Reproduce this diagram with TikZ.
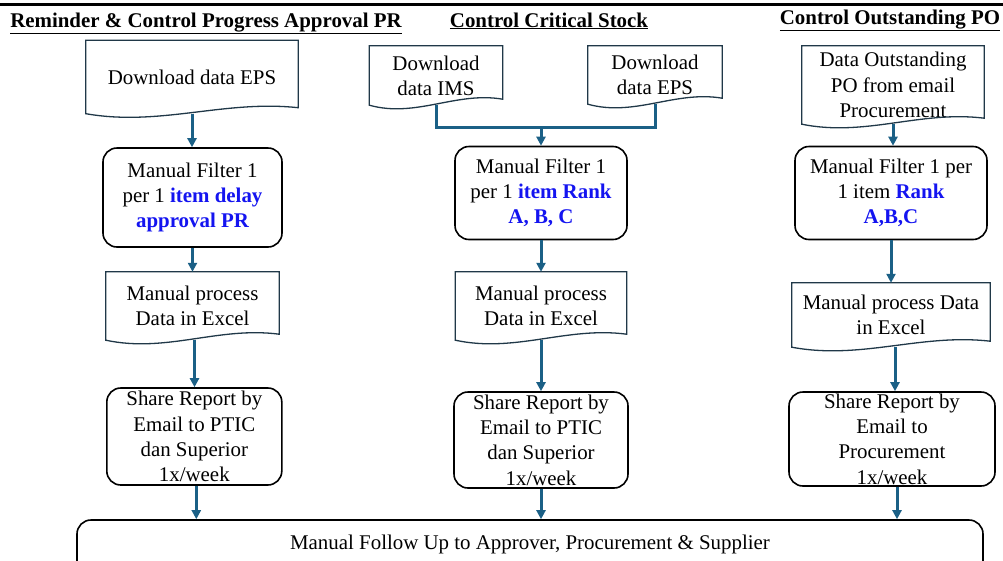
\documentclass[tikz,border=0pt]{standalone}
\usepackage{fontspec}
\setmainfont{Liberation Serif}
\usetikzlibrary{arrows.meta,calc}
\definecolor{flowblue}{RGB}{27,96,134}
\definecolor{docgray}{RGB}{32,56,72}
\definecolor{hiblue}{RGB}{20,20,240}
\tikzset{
  docbox/.style={shape=rectangle,inner sep=0pt,align=center},
  roundbox/.style={shape=rectangle,draw=black,line width=1.6pt,rounded corners=14pt,inner sep=0pt,align=center},
  docline/.style={draw=docgray,line width=1.3pt},
  flowline/.style={draw=flowblue,line width=3pt},
  flow/.style={flowline,-{Triangle[width=9pt,length=9pt]}},
  heading/.style={anchor=base,font=\fontsize{20.9}{25}\selectfont\bfseries}
}
\newcommand{\hi}[1]{\textcolor{hiblue}{\bfseries #1}}
\begin{document}
\begin{tikzpicture}[x=1pt,y=-1pt,font=\fontsize{20.9}{25.3}\selectfont]
    \useasboundingbox (0,0) rectangle (1003,560);
    \draw[line width=3pt] (0,4) -- (1003,4);

    \node[heading] (h1) at (206,27) {\underline{Reminder \& Control Progress Approval PR}};
    \node[heading] (h2) at (549,27) {\underline{Control Critical Stock}};
    \node[heading] (h3) at (890,24) {\underline{Control Outstanding PO}};

    % approval PR
    \node[docbox,minimum width=212pt,minimum height=73pt] (d1) at (192,77) {Download data EPS};
    \node[roundbox,minimum width=179pt,minimum height=99pt] (f1) at (192.5,197.5) {Manual Filter 1\\per 1 \hi{item delay}\\\hi{approval PR}};
    \node[docbox,minimum width=173pt,minimum height=68pt] (p1) at (192.5,306) {Manual process\\Data in Excel};
    \node[roundbox,minimum width=175pt,minimum height=97pt] (s1) at (194.3,436.5) {Share Report by\\Email to PTIC\\dan Superior\\1x/week};

    % critical stock
    \node[docbox,minimum width=133pt,minimum height=59pt] (d2a) at (436,75.5) {Download\\data IMS};
    \node[docbox,minimum width=134pt,minimum height=58pt] (d2b) at (655,75) {Download\\data EPS};
    \coordinate (j2) at (541,127);
    \node[roundbox,minimum width=172pt,minimum height=93pt] (f2) at (541,193) {Manual Filter 1\\per 1 \hi{item Rank}\\\hi{A, B, C}};
    \node[docbox,minimum width=171pt,minimum height=68pt] (p2) at (541,306) {Manual process\\Data in Excel};
    \node[roundbox,minimum width=174pt,minimum height=96pt] (s2) at (541,440) {Share Report by\\Email to PTIC\\dan Superior\\1x/week};

    % outstanding PO
    \node[docbox,minimum width=182pt,minimum height=78pt] (d3) at (893,85) {Data Outstanding\\PO from email\\Procurement};
    \node[roundbox,minimum width=192pt,minimum height=93pt] (f3) at (891,193) {Manual Filter 1 per\\1 item \hi{Rank}\\\hi{A,B,C}};
    \node[docbox,minimum width=198pt,minimum height=64pt] (p3) at (891,315) {Manual process Data\\in Excel};
    \node[roundbox,minimum width=206pt,minimum height=94pt] (s3) at (892,439) {Share Report by\\Email to\\Procurement\\1x/week};

    \node[roundbox,minimum width=906pt,minimum height=60pt] (fu) at (530,550) {\raisebox{16pt}{Manual Follow Up to Approver, Procurement \& Supplier}};

    \foreach \n in {d1,p1,d2a,d2b,p2,d3,p3}
      \draw[docline] (\n.south west) .. controls ($(\n.south west)!.35!(\n.south east)+(0,13)$) and ($(\n.south west)!.65!(\n.south east)+(0,-14)$) .. ($(\n.south east)+(0,-6)$) -- (\n.north east) -- (\n.north west) -- cycle;

    \draw[flow] (d1.south) -- (d1.south |- f1.north);
    \draw[flow] (f1.south) -- (f1.south |- p1.north);
    \draw[flow] (p1.south) ++(2,0) -- ($(p1.south |- s1.north)+(2,0)$);
    \draw[flow] (s1.south) ++(2,0) -- ($(s1.south |- fu.north)+(2,0)$);

    \draw[flowline] (d2a.south) |- (j2) -| (d2b.south);
    \draw[flow] (j2) -- (j2 |- f2.north);
    \draw[flow] (f2.south) -- (f2.south |- p2.north);
    \draw[flow] (p2.south) -- (p2.south |- s2.north);
    \draw[flow] (s2.south) -- (s2.south |- fu.north);

    \draw[flow] (d3.south) -- (d3.south |- f3.north);
    \draw[flow] (f3.south) -- (f3.south |- p3.north);
    \draw[flow] (p3.south) ++(4,0) -- ($(p3.south |- s3.north)+(4,0)$);
    \draw[flow] (s3.south) ++(5,0) -- ($(s3.south |- fu.north)+(5,0)$);
\end{tikzpicture}
\end{document}
